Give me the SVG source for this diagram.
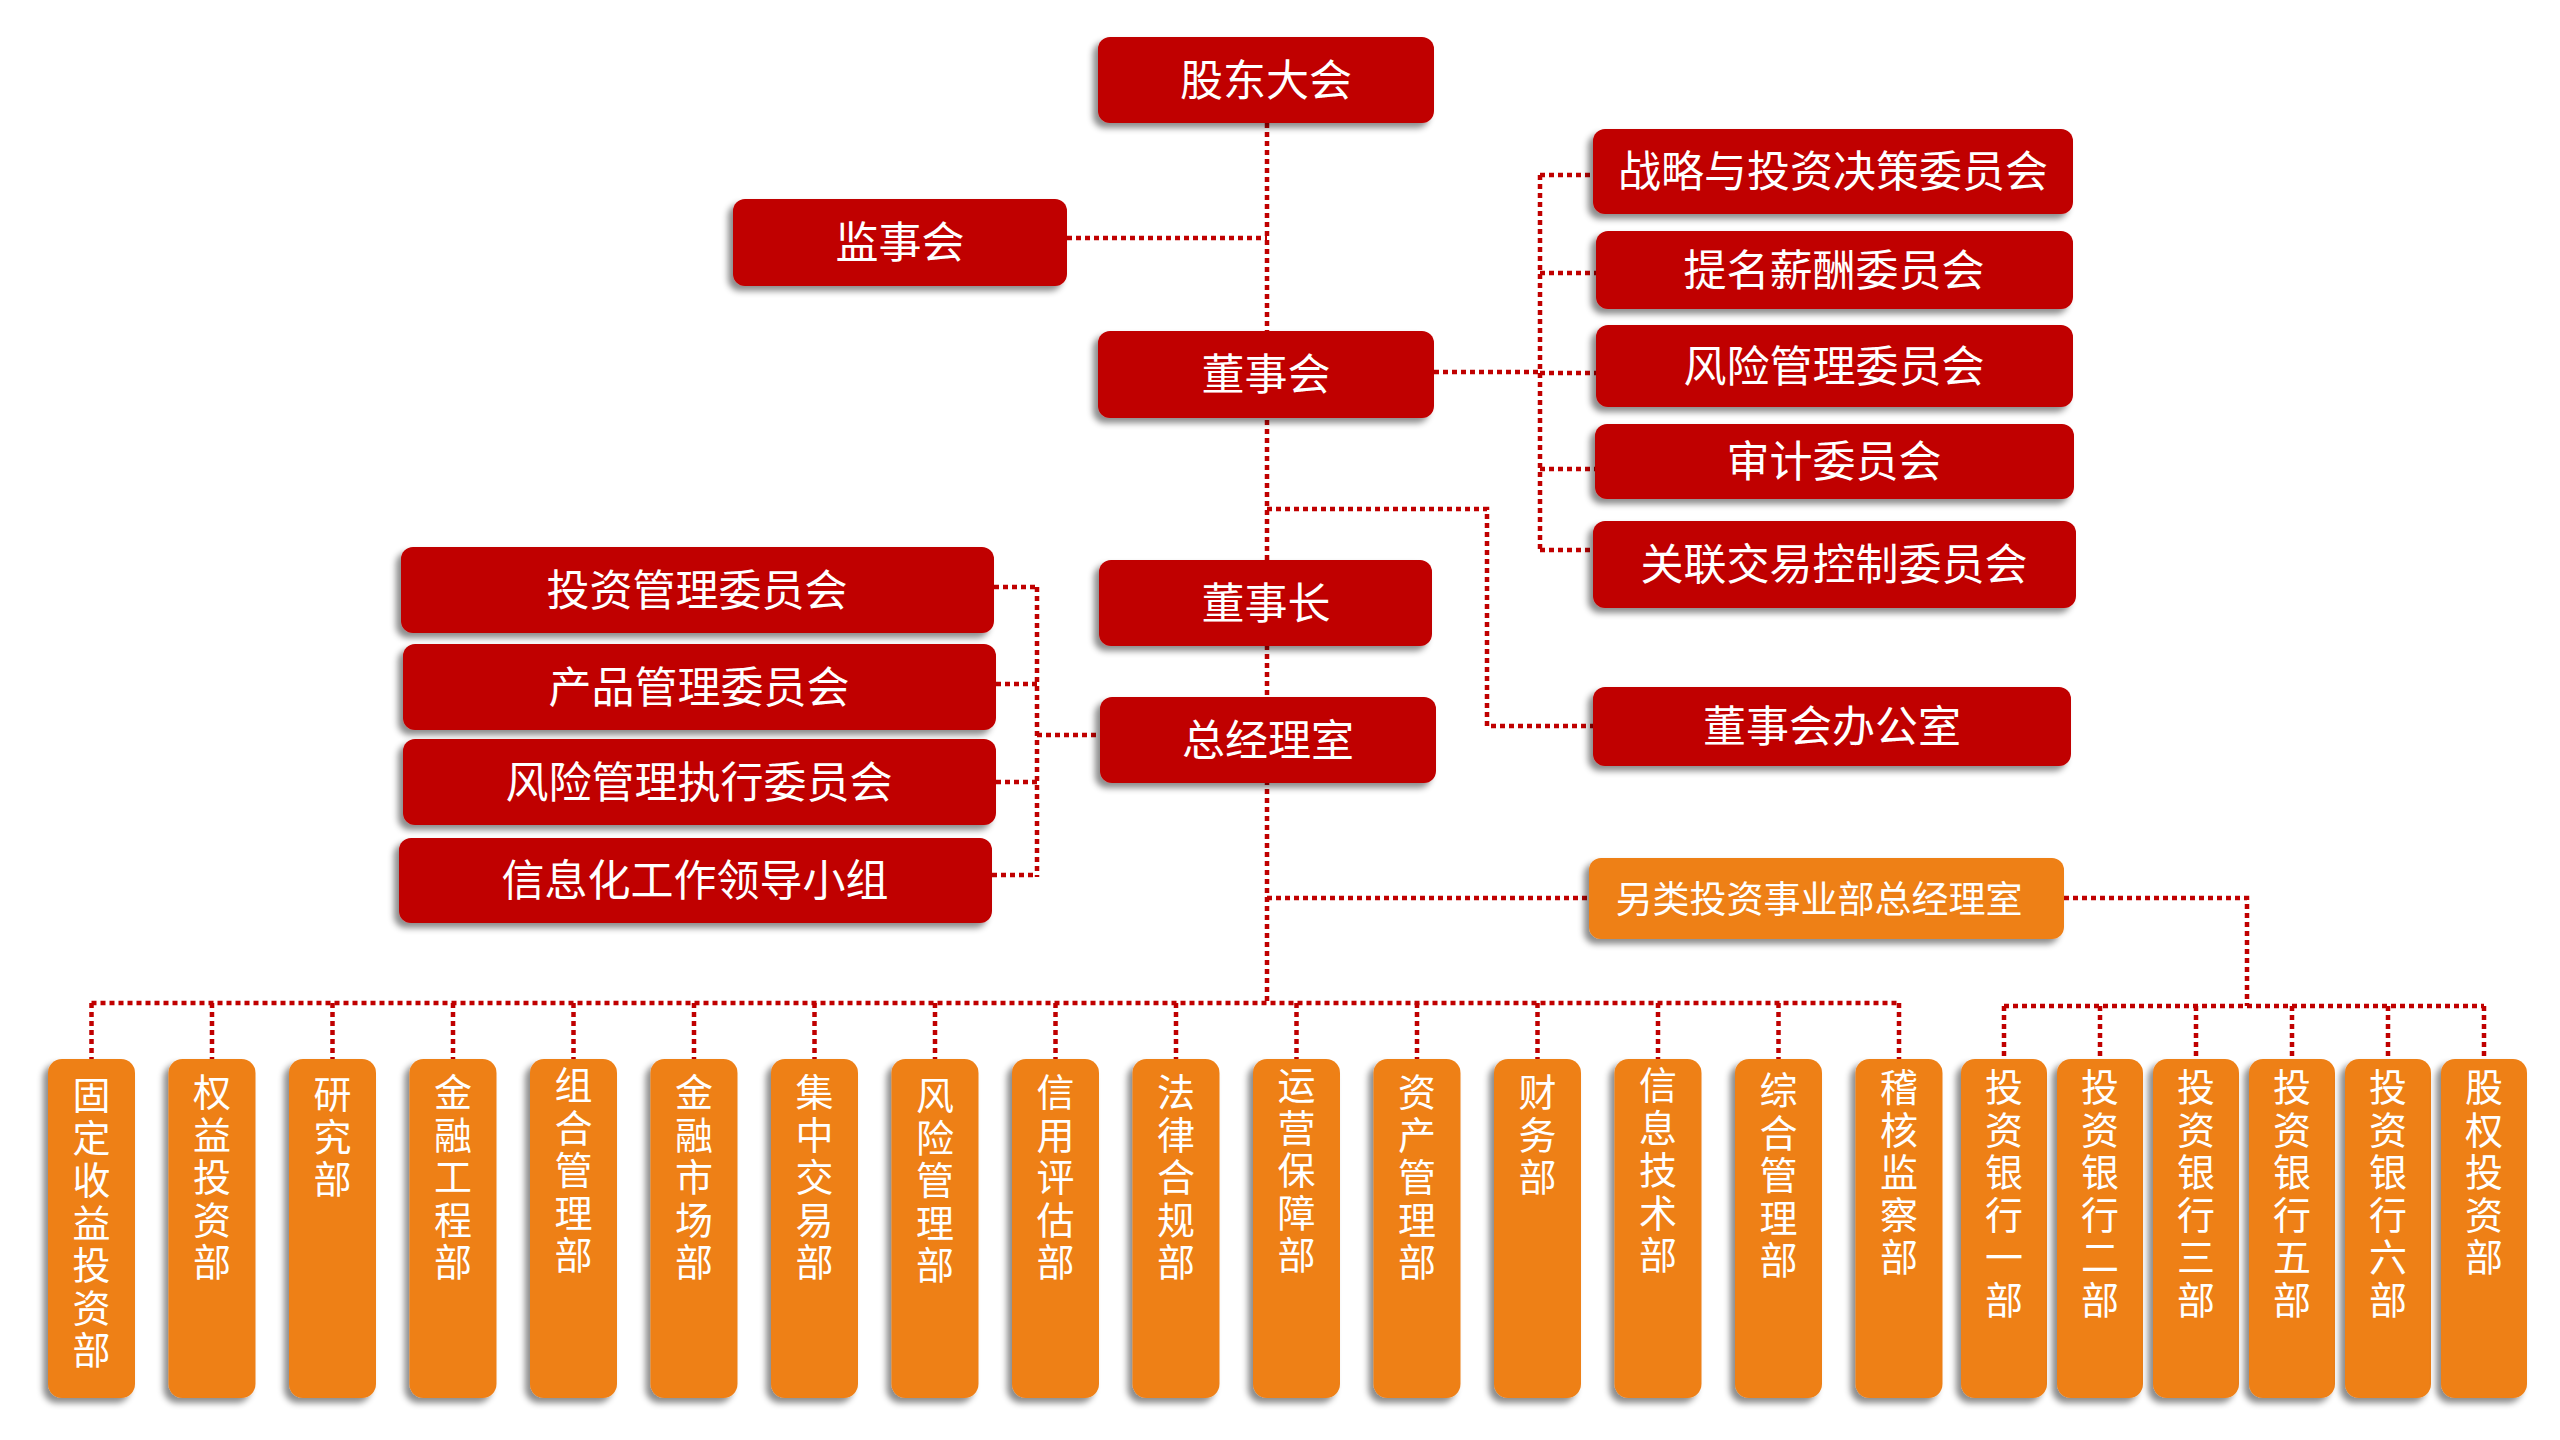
<svg xmlns="http://www.w3.org/2000/svg" width="2560" height="1440" viewBox="0 0 2560 1440">
<defs>
<filter id="sh" x="-20%" y="-20%" width="140%" height="140%">
<feDropShadow dx="-5" dy="5" stdDeviation="3" flood-color="#000" flood-opacity="0.45"/>
</filter>
<style>
.dot{fill:none;stroke:#C00000;stroke-width:4.5;stroke-dasharray:5 4}
.red{fill:#C00000;filter:url(#sh)}
.org{fill:#EE8019;filter:url(#sh)}
.t{fill:#fff;font-family:"Noto Sans CJK SC","Noto Sans",sans-serif;font-size:43px;text-anchor:middle;dominant-baseline:central}
.v{fill:#fff;font-family:"Noto Sans CJK SC","Noto Sans",sans-serif;font-size:38px;writing-mode:vertical-rl;text-orientation:upright;letter-spacing:4.5px}
</style>
</defs>
<rect width="2560" height="1440" fill="#fff"/>
<g id="connectors">
<path class="dot" d="M1267 123V1003"/>
<path class="dot" d="M1067 238H1267"/>
<path class="dot" d="M1434 372H1540"/>
<path class="dot" d="M1540 175V550"/>
<path class="dot" d="M1540 175H1593M1540 273H1596M1540 373H1596M1540 469H1595M1540 550H1593"/>
<path class="dot" d="M1267 509H1487V726H1593"/>
<path class="dot" d="M1037 587V877"/>
<path class="dot" d="M994 587H1037M996 684H1037M996 782H1037M992 875H1037"/>
<path class="dot" d="M1037 735H1100"/>
<path class="dot" d="M1267 898H1589"/>
<path class="dot" d="M2064 898H2247V1006"/>
<path class="dot" d="M91.5 1003H1899"/>
<path class="dot" d="M91.5 1003V1059M212 1003V1059M332.5 1003V1059M453 1003V1059M573.5 1003V1059M694 1003V1059M814.5 1003V1059M935 1003V1059M1055.5 1003V1059M1176 1003V1059M1296.5 1003V1059M1417 1003V1059M1537.5 1003V1059M1658 1003V1059M1778.5 1003V1059M1899 1003V1059"/>
<path class="dot" d="M2004 1006H2484"/>
<path class="dot" d="M2004 1006V1059M2100 1006V1059M2196 1006V1059M2292 1006V1059M2388 1006V1059M2484 1006V1059"/>
</g>
<g id="n-gudong"><rect class="red" x="1098" y="37" width="336" height="86" rx="12"/><text class="t" x="1266" y="77">股东大会</text></g>
<g id="n-jianshi"><rect class="red" x="733" y="199" width="334" height="87" rx="12"/><text class="t" x="900" y="239">监事会</text></g>
<g id="n-dongshihui"><rect class="red" x="1098" y="331" width="336" height="87" rx="12"/><text class="t" x="1266" y="371">董事会</text></g>
<g id="n-dongshizhang"><rect class="red" x="1099" y="560" width="333" height="86" rx="12"/><text class="t" x="1266" y="600">董事长</text></g>
<g id="n-zongjingli"><rect class="red" x="1100" y="697" width="336" height="86" rx="12"/><text class="t" x="1268" y="737">总经理室</text></g>
<g id="n-zhanlue"><rect class="red" x="1593" y="129" width="480" height="85" rx="12"/><text class="t" x="1833" y="168">战略与投资决策委员会</text></g>
<g id="n-timing"><rect class="red" x="1596" y="231" width="477" height="78" rx="12"/><text class="t" x="1834" y="267">提名薪酬委员会</text></g>
<g id="n-fengxian"><rect class="red" x="1596" y="325" width="477" height="82" rx="12"/><text class="t" x="1834" y="363">风险管理委员会</text></g>
<g id="n-shenji"><rect class="red" x="1595" y="424" width="479" height="75" rx="12"/><text class="t" x="1834" y="458">审计委员会</text></g>
<g id="n-guanlian"><rect class="red" x="1593" y="521" width="483" height="87" rx="12"/><text class="t" x="1834" y="561">关联交易控制委员会</text></g>
<g id="n-dongban"><rect class="red" x="1593" y="687" width="478" height="79" rx="12"/><text class="t" x="1832" y="723">董事会办公室</text></g>
<g id="n-touzi"><rect class="red" x="401" y="547" width="593" height="86" rx="12"/><text class="t" x="697" y="587">投资管理委员会</text></g>
<g id="n-chanpin"><rect class="red" x="403" y="644" width="593" height="86" rx="12"/><text class="t" x="699" y="684">产品管理委员会</text></g>
<g id="n-fengzhi"><rect class="red" x="403" y="739" width="593" height="86" rx="12"/><text class="t" x="699" y="779">风险管理执行委员会</text></g>
<g id="n-xinxihua"><rect class="red" x="399" y="838" width="593" height="85" rx="12"/><text class="t" x="695" y="877">信息化工作领导小组</text></g>
<g id="n-linglei"><rect class="org" x="1589" y="858" width="475" height="81" rx="12"/><text class="t" x="1819" y="897" style="font-size:37px">另类投资事业部总经理室</text></g>
<g id="d01"><rect class="org" x="48" y="1059" width="87" height="339" rx="14"/><text class="v" x="91.5" y="1076">固定收益投资部</text></g>
<g id="d02"><rect class="org" x="168.5" y="1059" width="87" height="339" rx="14"/><text class="v" x="212" y="1073">权益投资部</text></g>
<g id="d03"><rect class="org" x="289" y="1059" width="87" height="339" rx="14"/><text class="v" x="332.5" y="1075">研究部</text></g>
<g id="d04"><rect class="org" x="409.5" y="1059" width="87" height="339" rx="14"/><text class="v" x="453" y="1073">金融工程部</text></g>
<g id="d05"><rect class="org" x="530" y="1059" width="87" height="339" rx="14"/><text class="v" x="573.5" y="1066">组合管理部</text></g>
<g id="d06"><rect class="org" x="650.5" y="1059" width="87" height="339" rx="14"/><text class="v" x="694" y="1073">金融市场部</text></g>
<g id="d07"><rect class="org" x="771" y="1059" width="87" height="339" rx="14"/><text class="v" x="814.5" y="1073">集中交易部</text></g>
<g id="d08"><rect class="org" x="891.5" y="1059" width="87" height="339" rx="14"/><text class="v" x="935" y="1076">风险管理部</text></g>
<g id="d09"><rect class="org" x="1012" y="1059" width="87" height="339" rx="14"/><text class="v" x="1055.5" y="1073">信用评估部</text></g>
<g id="d10"><rect class="org" x="1132.5" y="1059" width="87" height="339" rx="14"/><text class="v" x="1176" y="1073">法律合规部</text></g>
<g id="d11"><rect class="org" x="1253" y="1059" width="87" height="339" rx="14"/><text class="v" x="1296.5" y="1066">运营保障部</text></g>
<g id="d12"><rect class="org" x="1373.5" y="1059" width="87" height="339" rx="14"/><text class="v" x="1417" y="1073">资产管理部</text></g>
<g id="d13"><rect class="org" x="1494" y="1059" width="87" height="339" rx="14"/><text class="v" x="1537.5" y="1073">财务部</text></g>
<g id="d14"><rect class="org" x="1614.5" y="1059" width="87" height="339" rx="14"/><text class="v" x="1658" y="1066">信息技术部</text></g>
<g id="d15"><rect class="org" x="1735" y="1059" width="87" height="339" rx="14"/><text class="v" x="1778.5" y="1071">综合管理部</text></g>
<g id="d16"><rect class="org" x="1855.5" y="1059" width="87" height="339" rx="14"/><text class="v" x="1899" y="1068">稽核监察部</text></g>
<g id="d17"><rect class="org" x="1961" y="1059" width="86" height="339" rx="14"/><text class="v" x="2004" y="1068">投资银行一部</text></g>
<g id="d18"><rect class="org" x="2057" y="1059" width="86" height="339" rx="14"/><text class="v" x="2100" y="1068">投资银行二部</text></g>
<g id="d19"><rect class="org" x="2153" y="1059" width="86" height="339" rx="14"/><text class="v" x="2196" y="1068">投资银行三部</text></g>
<g id="d20"><rect class="org" x="2249" y="1059" width="86" height="339" rx="14"/><text class="v" x="2292" y="1068">投资银行五部</text></g>
<g id="d21"><rect class="org" x="2345" y="1059" width="86" height="339" rx="14"/><text class="v" x="2388" y="1068">投资银行六部</text></g>
<g id="d22"><rect class="org" x="2441" y="1059" width="86" height="339" rx="14"/><text class="v" x="2484" y="1068">股权投资部</text></g>
</svg>
